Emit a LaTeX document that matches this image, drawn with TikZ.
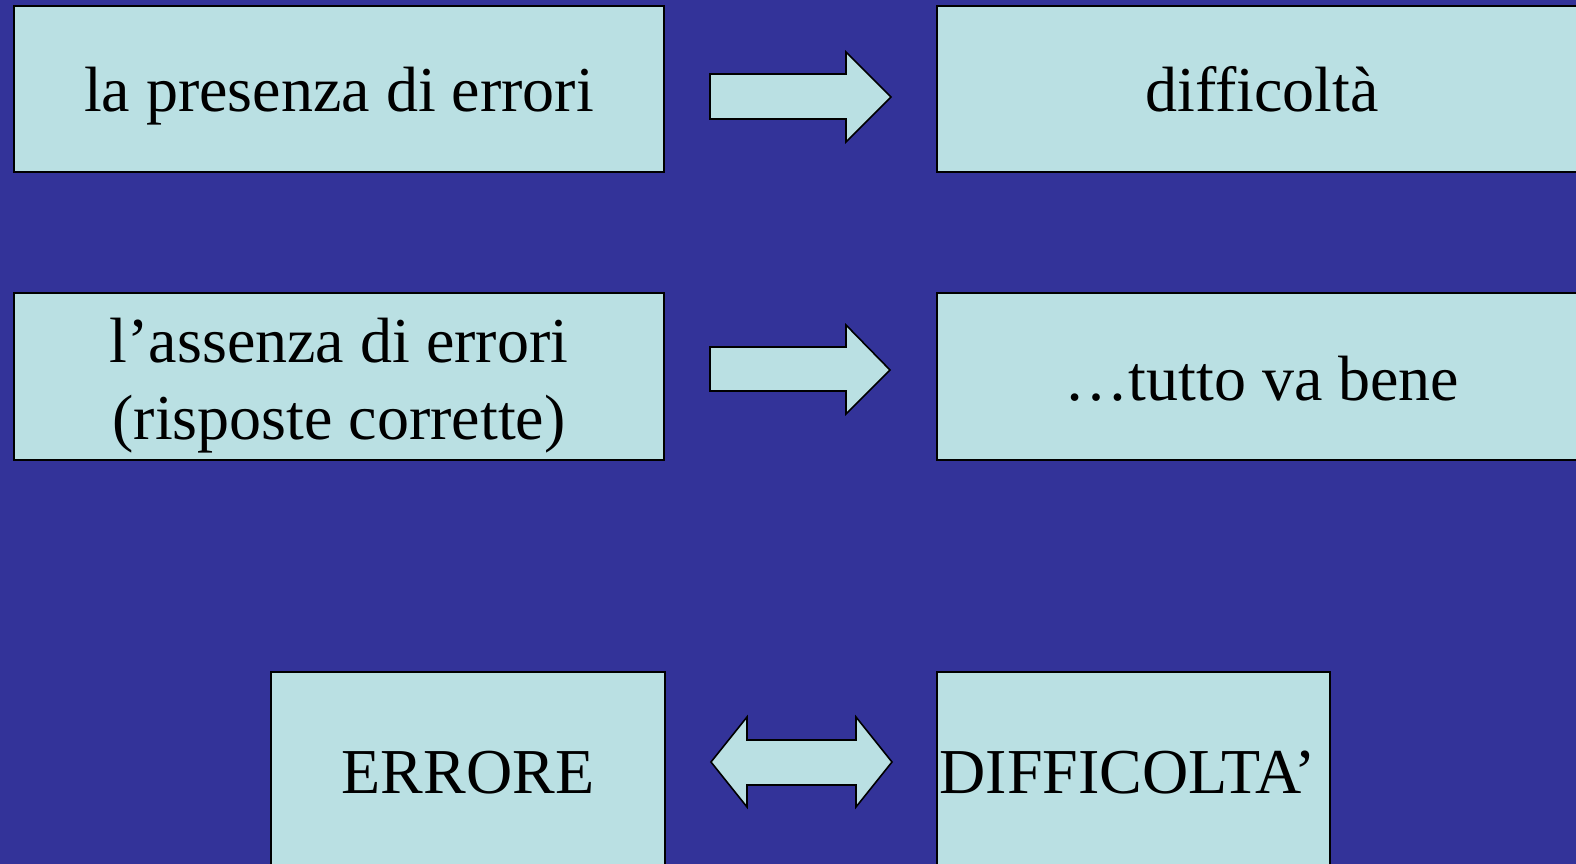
\documentclass[tikz,border=0pt]{standalone}
\usepackage{fontspec}
\setmainfont{Liberation Serif}
\definecolor{slidebg}{RGB}{51,51,153}
\definecolor{boxfill}{RGB}{186,224,227}
\begin{document}
\begin{tikzpicture}[x=1pt,y=-1pt,
  panel/.style={draw=black,line width=1.6pt,fill=boxfill,inner sep=0pt,outer sep=0pt},
  label/.style={inner sep=0pt,outer sep=0pt,font=\fontsize{64}{77}\selectfont},
  blockarrow/.style={draw=black,line width=1.6pt,fill=boxfill,line join=miter}]
  % slide background
  \fill[slidebg] (0,0) rectangle (1576,864);
  \useasboundingbox (0,0) rectangle (1576,864);

  % boxes
  \node[panel,minimum width=650pt,minimum height=166pt] (b1) at (339,89) {};
  \node[panel,minimum width=651pt,minimum height=166pt] (b2) at (1262.5,89) {};
  \node[panel,minimum width=650pt,minimum height=167pt] (b3) at (339,376.5) {};
  \node[panel,minimum width=651pt,minimum height=167pt] (b4) at (1262.5,376.5) {};
  \node[panel,minimum width=394pt,minimum height=198pt] (b5) at (468,771) {};
  \node[panel,minimum width=393pt,minimum height=198pt] (b6) at (1133.5,771) {};

  % texts
  \node[label,anchor=base] (t1) at (339,112) {la presenza di errori};
  \node[label,anchor=base] (t2) at (1262,112) {difficoltà};
  \node[label,align=center] (t3) at (339,386) {l’assenza di errori\\(risposte corrette)};
  \node[label,anchor=base] (t4) at (1262,400) {…tutto va bene};
  \node[label,anchor=base] (t5) at (468,793) {ERRORE};
  \node[label,anchor=base] (t6) at (1128,793) {DIFFICOLTA’};

  % block arrows between the boxes
  \draw[blockarrow] (710,74) -- (846,74) -- (846,52) -- (891,97) -- (846,142)
    -- (846,119) -- (710,119) -- cycle;
  \draw[blockarrow] (710,347) -- (846,347) -- (846,325) -- (890,370) -- (846,414)
    -- (846,391) -- (710,391) -- cycle;
  \draw[blockarrow] (711,762) -- (747,717) -- (747,740) -- (856,740) -- (856,717)
    -- (892,762) -- (856,807) -- (856,785) -- (747,785) -- (747,807) -- cycle;
\end{tikzpicture}
\end{document}
